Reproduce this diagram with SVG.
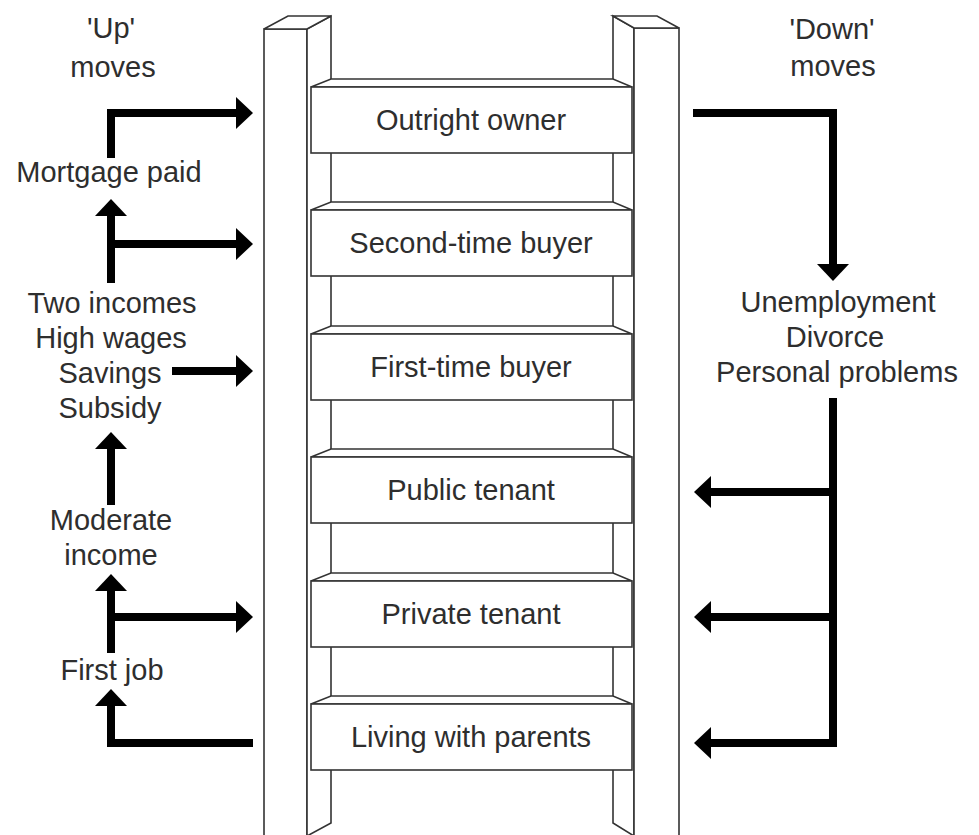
<svg xmlns="http://www.w3.org/2000/svg" width="979" height="835" viewBox="0 0 979 835">
<style>
.face{fill:#fff;stroke:#333;stroke-width:1.6;stroke-linejoin:miter}
.lbl{font-family:"Liberation Sans",Arial,sans-serif;font-size:29px;fill:#2e2e2e;text-anchor:middle}
.arr{fill:none;stroke:#000;stroke-width:8;stroke-linejoin:miter;stroke-linecap:butt}
</style>
<defs>
<marker id="ah" markerUnits="userSpaceOnUse" markerWidth="17" markerHeight="32" refX="0" refY="16" orient="auto" viewBox="0 0 17 32">
<path d="M0,0 L17,16 L0,32 Z" fill="#000"/>
</marker>
</defs>
<rect width="979" height="835" fill="#fff"/>
<g id="ladder-rails">
<g id="left-rail">
<rect class="face" x="264" y="29" width="43" height="808"/>
<polygon class="face" points="307,29 331,16 331,823 307,836"/>
<polygon class="face" points="264,29 288,16 331,16 307,29"/>
</g>
<g id="right-rail">
<polygon class="face" points="613,16 634,28 634,836 613,823"/>
<rect class="face" x="634" y="28" width="45" height="809"/>
<polygon class="face" points="613,16 657,16 679,28 634,28"/>
</g>
</g>
<g id="rung-outright">
<polygon class="face" points="311,87 331,79 613,79 632,87"/>
<rect class="face" x="311" y="87" width="321" height="66"/>
<text class="lbl" x="471" y="130">Outright owner</text>
</g>
<g id="rung-second">
<polygon class="face" points="311,210 331,202 613,202 632,210"/>
<rect class="face" x="311" y="210" width="321" height="66"/>
<text class="lbl" x="471" y="253">Second-time buyer</text>
</g>
<g id="rung-first">
<polygon class="face" points="311,334 331,326 613,326 632,334"/>
<rect class="face" x="311" y="334" width="321" height="66"/>
<text class="lbl" x="471" y="377">First-time buyer</text>
</g>
<g id="rung-public">
<polygon class="face" points="311,457 331,449 613,449 632,457"/>
<rect class="face" x="311" y="457" width="321" height="66"/>
<text class="lbl" x="471" y="500">Public tenant</text>
</g>
<g id="rung-private">
<polygon class="face" points="311,581 331,573 613,573 632,581"/>
<rect class="face" x="311" y="581" width="321" height="66"/>
<text class="lbl" x="471" y="624">Private tenant</text>
</g>
<g id="rung-parents">
<polygon class="face" points="311,704 331,696 613,696 632,704"/>
<rect class="face" x="311" y="704" width="321" height="66"/>
<text class="lbl" x="471" y="747">Living with parents</text>
</g>
<g id="label-up"><text class="lbl" x="111" y="38">'Up'</text><text class="lbl" x="113" y="77">moves</text></g>
<g id="label-down"><text class="lbl" x="832" y="39">'Down'</text><text class="lbl" x="833" y="76">moves</text></g>
<g id="label-mortgage"><text class="lbl" x="109" y="182">Mortgage paid</text></g>
<g id="label-incomes">
<text class="lbl" x="112" y="313">Two incomes</text>
<text class="lbl" x="111" y="348">High wages</text>
<text class="lbl" x="110" y="383">Savings</text>
<text class="lbl" x="110" y="418">Subsidy</text>
</g>
<g id="label-moderate"><text class="lbl" x="111" y="530">Moderate</text><text class="lbl" x="111" y="565">income</text></g>
<g id="label-firstjob"><text class="lbl" x="112" y="680">First job</text></g>
<g id="label-problems">
<text class="lbl" x="838" y="312">Unemployment</text>
<text class="lbl" x="835" y="347">Divorce</text>
<text class="lbl" x="837" y="382">Personal problems</text>
</g>
<g id="connectors">
<path class="arr" d="M111,158 V113 H236" marker-end="url(#ah)"/>
<path class="arr" d="M111,283 V216" marker-end="url(#ah)"/>
<path class="arr" d="M111,244 H236" marker-end="url(#ah)"/>
<path class="arr" d="M172,371 H236" marker-end="url(#ah)"/>
<path class="arr" d="M111,505 V449" marker-end="url(#ah)"/>
<path class="arr" d="M111,653 V591" marker-end="url(#ah)"/>
<path class="arr" d="M111,617 H236" marker-end="url(#ah)"/>
<path class="arr" d="M253,743 H111 V706" marker-end="url(#ah)"/>
<path class="arr" d="M693,113 H833 V264" marker-end="url(#ah)"/>
<path class="arr" d="M833,398 V743 H711" marker-end="url(#ah)"/>
<path class="arr" d="M833,492 H711" marker-end="url(#ah)"/>
<path class="arr" d="M833,617 H711" marker-end="url(#ah)"/>
</g>
</svg>
